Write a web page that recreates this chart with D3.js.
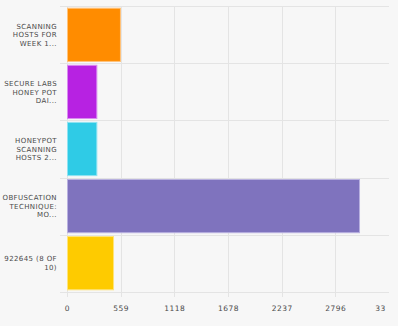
<!DOCTYPE html>
<html><head><meta charset="utf-8">
<script src="https://cdn.jsdelivr.net/npm/d3@7"></script>
<style>
html,body{margin:0;padding:0;background:#f7f7f7;}
svg{display:block;}
text{font-family:"DejaVu Sans",sans-serif;fill:#4a4a4a;}
</style></head>
<body>
<script>
const categories = [
  ["SCANNING","HOSTS FOR","WEEK 1..."],
  ["SECURE LABS","HONEY POT","DAI..."],
  ["HONEYPOT","SCANNING","HOSTS 2..."],
  ["OBFUSCATION","TECHNIQUE:","MO..."],
  ["922645 (8 OF","10)"]
];
const values = [562, 316, 316, 3053, 490];
const colors = ["#ff8c00","#b722e2","#2fcbe6","#7f73be","#fecb00"];
const strokes = ["#ffc27a","#d98cf0","#8fe3f2","#b9b1e0","#fee47a"];
const tickValues = [0, 559, 1118, 1678, 2237, 2796, 3355];
const tickLabels = ["0","559","1118","1678","2237","2796","33"];

const W = 398, H = 326;
const svg = d3.select("body").append("svg").attr("width", W).attr("height", H);

const x = d3.scaleLinear().domain([0, 3355]).range([67, 389]);
const y = d3.scaleBand().domain(d3.range(categories.length)).range([6, 292]).paddingInner(0.05).paddingOuter(0.03);

const gridColor = "#e4e4e4";
const step = (292 - 6) / categories.length;
const bounds = d3.range(categories.length + 1).map(i => 6 + i * step);
svg.append("g").selectAll("line").data(bounds).join("line")
  .attr("x1", 60).attr("x2", 389)
  .attr("y1", d => Math.round(d) + 0.5).attr("y2", d => Math.round(d) + 0.5)
  .attr("stroke", gridColor).attr("stroke-width", 1);

svg.append("g").selectAll("line").data(tickValues.slice(0, -1)).join("line")
  .attr("x1", d => Math.round(x(d)) + 0.5).attr("x2", d => Math.round(x(d)) + 0.5)
  .attr("y1", 6).attr("y2", 297)
  .attr("stroke", gridColor).attr("stroke-width", 1);

svg.append("g").selectAll("rect").data(values).join("rect")
  .attr("x", x(0) + 0.5)
  .attr("y", (d, i) => y(i) + 0.5)
  .attr("width", d => x(d) - x(0) - 1)
  .attr("height", y.bandwidth() - 1)
  .attr("fill", (d, i) => colors[i])
  .attr("stroke", (d, i) => strokes[i])
  .attr("stroke-width", 1);

const xAxis = d3.axisBottom(x).tickValues(tickValues)
  .tickFormat((d, i) => tickLabels[i]).tickSize(0).tickPadding(14);
const ax = svg.append("g").attr("transform", "translate(0,292)").call(xAxis);
ax.select(".domain").remove();
ax.selectAll("text").attr("font-size", 7.5).style("letter-spacing", "0.5px")
  .attr("font-family", "DejaVu Sans").attr("fill", "#4a4a4a");
ax.selectAll(".tick").filter((d, i) => i === tickValues.length - 1)
  .select("text").attr("dx", -9);

const lh = 8.6;
const lg = svg.append("g");
categories.forEach((lines, i) => {
  const cy = y(i) + y.bandwidth() / 2;
  const t = lg.append("text").attr("text-anchor", "end")
    .attr("font-size", 7).style("letter-spacing", "0.4px");
  lines.forEach((l, j) => {
    t.append("tspan").attr("x", 57)
      .attr("y", cy + (j - (lines.length - 1) / 2) * lh + 2.6).text(l);
  });
});
</script>
</body></html>
